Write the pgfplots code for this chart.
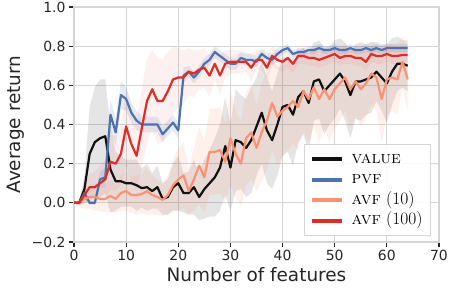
\documentclass[border=0pt]{standalone}
\usepackage{fontspec}
\setsansfont{DejaVu Sans}
\usepackage{pgfplots}
\pgfplotsset{compat=1.18}
\usepackage{pgfplotstable}
\usepgfplotslibrary{fillbetween}

\definecolor{cval}{HTML}{111111}
\definecolor{cpvf}{HTML}{4C72B0}
\definecolor{cavfa}{HTML}{FC9272}
\definecolor{cavfb}{HTML}{DE2D26}
\definecolor{gridc}{HTML}{D5D5D5}
\definecolor{txtc}{HTML}{262626}

\pgfplotstableread{
x m s
0 0.00 0.00
1 0.00 0.01
2 0.07 0.07
3 0.25 0.24
4 0.31 0.28
5 0.33 0.30
6 0.34 0.29
7 0.17 0.22
8 0.11 0.15
9 0.11 0.13
10 0.10 0.12
11 0.10 0.12
12 0.09 0.13
13 0.075 0.10
14 0.08 0.12
15 0.06 0.09
16 0.08 0.11
17 0.02 0.08
18 0.03 0.09
19 0.08 0.12
20 0.10 0.14
21 0.05 0.10
22 0.05 0.11
23 0.08 0.14
24 0.03 0.12
25 0.07 0.15
26 0.10 0.17
27 0.13 0.20
28 0.18 0.22
29 0.29 0.25
30 0.18 0.22
31 0.32 0.26
32 0.31 0.24
33 0.28 0.25
34 0.32 0.27
35 0.39 0.25
36 0.46 0.26
37 0.37 0.27
38 0.32 0.25
39 0.40 0.26
40 0.49 0.25
41 0.50 0.24
42 0.45 0.26
43 0.54 0.23
44 0.57 0.22
45 0.51 0.25
46 0.62 0.20
47 0.63 0.20
48 0.57 0.22
49 0.60 0.20
50 0.63 0.20
51 0.66 0.18
52 0.62 0.20
53 0.55 0.22
54 0.62 0.19
55 0.62 0.20
56 0.63 0.18
57 0.64 0.18
58 0.67 0.15
59 0.64 0.17
60 0.61 0.20
61 0.67 0.17
62 0.71 0.14
63 0.71 0.12
64 0.70 0.13
}\tval

\pgfplotstableread{
x m s
0 0.00 0.00
1 0.00 0.01
2 0.05 0.03
3 0.00 0.01
4 0.00 0.01
5 0.12 0.04
6 0.13 0.05
7 0.45 0.08
8 0.36 0.07
9 0.55 0.07
10 0.53 0.06
11 0.46 0.05
12 0.42 0.05
13 0.40 0.04
14 0.40 0.04
15 0.40 0.04
16 0.40 0.04
17 0.35 0.04
18 0.38 0.04
19 0.41 0.04
20 0.37 0.04
21 0.65 0.04
22 0.67 0.03
23 0.64 0.03
24 0.67 0.03
25 0.71 0.03
26 0.73 0.03
27 0.77 0.03
28 0.75 0.03
29 0.73 0.03
30 0.71 0.03
31 0.71 0.03
32 0.74 0.03
33 0.73 0.03
34 0.73 0.03
35 0.72 0.03
36 0.76 0.03
37 0.74 0.03
38 0.73 0.03
39 0.76 0.03
40 0.78 0.02
41 0.79 0.02
42 0.76 0.02
43 0.77 0.02
44 0.77 0.02
45 0.78 0.02
46 0.78 0.02
47 0.79 0.02
48 0.78 0.02
49 0.78 0.02
50 0.79 0.02
51 0.78 0.02
52 0.78 0.02
53 0.79 0.02
54 0.78 0.02
55 0.78 0.02
56 0.79 0.02
57 0.78 0.02
58 0.79 0.02
59 0.78 0.02
60 0.79 0.02
61 0.79 0.02
62 0.79 0.02
63 0.79 0.02
64 0.79 0.02
}\tpvf

\pgfplotstableread{
x m s
0 0.00 0.00
1 0.00 0.02
2 0.02 0.05
3 0.03 0.06
4 0.03 0.07
5 0.02 0.06
6 0.02 0.07
7 0.035 0.08
8 0.02 0.07
9 0.05 0.09
10 0.06 0.10
11 0.04 0.09
12 0.04 0.10
13 0.045 0.10
14 0.06 0.12
15 0.04 0.10
16 0.03 0.09
17 0.015 0.08
18 0.04 0.10
19 0.09 0.13
20 0.12 0.16
21 0.14 0.17
22 0.06 0.12
23 0.12 0.16
24 0.19 0.20
25 0.13 0.18
26 0.26 0.22
27 0.26 0.22
28 0.27 0.22
29 0.21 0.20
30 0.33 0.24
31 0.25 0.22
32 0.20 0.22
33 0.33 0.24
34 0.36 0.24
35 0.28 0.22
36 0.36 0.25
37 0.42 0.25
38 0.51 0.24
39 0.44 0.25
40 0.47 0.23
41 0.49 0.22
42 0.52 0.22
43 0.49 0.22
44 0.57 0.20
45 0.53 0.22
46 0.59 0.20
47 0.53 0.22
48 0.58 0.20
49 0.53 0.22
50 0.58 0.20
51 0.61 0.19
52 0.64 0.17
53 0.58 0.20
54 0.62 0.18
55 0.58 0.19
56 0.61 0.18
57 0.66 0.16
58 0.64 0.17
59 0.53 0.22
60 0.63 0.18
61 0.64 0.17
62 0.63 0.18
63 0.72 0.13
64 0.63 0.16
}\tavfa

\pgfplotstableread{
x m s
0 0.00 0.00
1 0.00 0.01
2 0.04 0.04
3 0.08 0.07
4 0.08 0.08
5 0.10 0.09
6 0.12 0.10
7 0.21 0.14
8 0.20 0.14
9 0.25 0.16
10 0.39 0.20
11 0.30 0.19
12 0.24 0.18
13 0.38 0.20
14 0.52 0.22
15 0.58 0.20
16 0.52 0.22
17 0.52 0.21
18 0.57 0.20
19 0.63 0.17
20 0.64 0.15
21 0.64 0.14
22 0.67 0.12
23 0.66 0.12
24 0.68 0.10
25 0.69 0.10
26 0.65 0.11
27 0.71 0.08
28 0.65 0.10
29 0.71 0.07
30 0.72 0.06
31 0.72 0.06
32 0.72 0.06
33 0.72 0.05
34 0.69 0.07
35 0.73 0.05
36 0.73 0.05
37 0.69 0.06
38 0.75 0.05
39 0.73 0.05
40 0.72 0.05
41 0.74 0.05
42 0.71 0.05
43 0.75 0.04
44 0.75 0.04
45 0.74 0.04
46 0.74 0.04
47 0.73 0.04
48 0.74 0.04
49 0.75 0.04
50 0.76 0.04
51 0.74 0.04
52 0.75 0.04
53 0.75 0.04
54 0.74 0.04
55 0.74 0.04
56 0.72 0.05
57 0.76 0.04
58 0.75 0.04
59 0.75 0.04
60 0.76 0.04
61 0.75 0.04
62 0.75 0.04
63 0.755 0.04
64 0.755 0.04
}\tavfb

\begin{document}
\begin{tikzpicture}
\begin{axis}[
  scale only axis, width=365bp, height=235bp,
  xmin=0, xmax=70, ymin=-0.2, ymax=1.0,
  xtick={0,10,20,30,40,50,60,70},
  xticklabels={0,10,20,30,40,50,60,70},
  ytick={-0.2,0,0.2,0.4,0.6,0.8,1.0},
  yticklabels={−0.2,0.0,0.2,0.4,0.6,0.8,1.0},
  tick pos=left, tick align=outside, major tick length=5bp,
  tick style={draw=txtc, line width=1.1bp},
  axis line style={draw=gridc, line width=1.2bp},
  grid=major, grid style={draw=gridc, line width=1.1bp},
  tick label style={font=\sffamily\fontsize{14}{16}\selectfont, text=txtc},
  label style={font=\sffamily\fontsize{18.5}{22}\selectfont, text=txtc},
  xlabel={Number of features},
  ylabel={Average return},
  legend image code/.code={\draw[#1, line width=3.5bp] (0bp,0bp) -- (30bp,0bp);},
  legend style={at={(rel axis cs:1,0)}, anchor=south east, xshift=-8bp, yshift=6bp,
    draw=gridc, line width=1bp, fill=white, fill opacity=0.9, text opacity=1,
    font=\rmfamily\fontsize{17.5}{19}\selectfont, text=black,
    inner xsep=6bp, inner ysep=5bp, row sep=1bp,
    nodes={inner xsep=2bp, inner ysep=2bp, text height=11.5bp, text depth=4bp},
    /tikz/every odd column/.append style={column sep=6bp}},
  legend cell align=left,
]
% bands
\addplot[draw=none, name path=vu, forget plot] table[x=x, y expr=\thisrow{m}+\thisrow{s}] {\tval};
\addplot[draw=none, name path=vl, forget plot] table[x=x, y expr=\thisrow{m}-\thisrow{s}] {\tval};
\addplot[fill=black, fill opacity=0.10, draw=none, forget plot] fill between[of=vu and vl];
\addplot[draw=none, name path=pu, forget plot] table[x=x, y expr=\thisrow{m}+\thisrow{s}] {\tpvf};
\addplot[draw=none, name path=pl, forget plot] table[x=x, y expr=\thisrow{m}-\thisrow{s}] {\tpvf};
\addplot[fill=cpvf, fill opacity=0.14, draw=none, forget plot] fill between[of=pu and pl];
\addplot[draw=none, name path=au, forget plot] table[x=x, y expr=\thisrow{m}+\thisrow{s}] {\tavfa};
\addplot[draw=none, name path=al, forget plot] table[x=x, y expr=\thisrow{m}-\thisrow{s}] {\tavfa};
\addplot[fill=cavfa, fill opacity=0.14, draw=none, forget plot] fill between[of=au and al];
\addplot[draw=none, name path=bu, forget plot] table[x=x, y expr=\thisrow{m}+\thisrow{s}] {\tavfb};
\addplot[draw=none, name path=bl, forget plot] table[x=x, y expr=\thisrow{m}-\thisrow{s}] {\tavfb};
\addplot[fill=cavfb, fill opacity=0.07, draw=none, forget plot] fill between[of=bu and bl];
% lines
\addplot[cval, line width=2.2bp, line join=round] table[x=x, y=m] {\tval};
\addlegendentry{\textsc{value}}
\addplot[cpvf, line width=2.2bp, line join=round] table[x=x, y=m] {\tpvf};
\addlegendentry{\textsc{pvf}}
\addplot[cavfa, line width=2.2bp, line join=round] table[x=x, y=m] {\tavfa};
\addlegendentry{\textsc{avf} (10)}
\addplot[cavfb, line width=2.2bp, line join=round] table[x=x, y=m] {\tavfb};
\addlegendentry{\textsc{avf} (100)}
\coordinate (o) at (rel axis cs:0,0);
\end{axis}
\pgfresetboundingbox
\path ([shift={(-74bp,-48bp)}]o) rectangle ([shift={(376bp,242bp)}]o);
\end{tikzpicture}
\end{document}
